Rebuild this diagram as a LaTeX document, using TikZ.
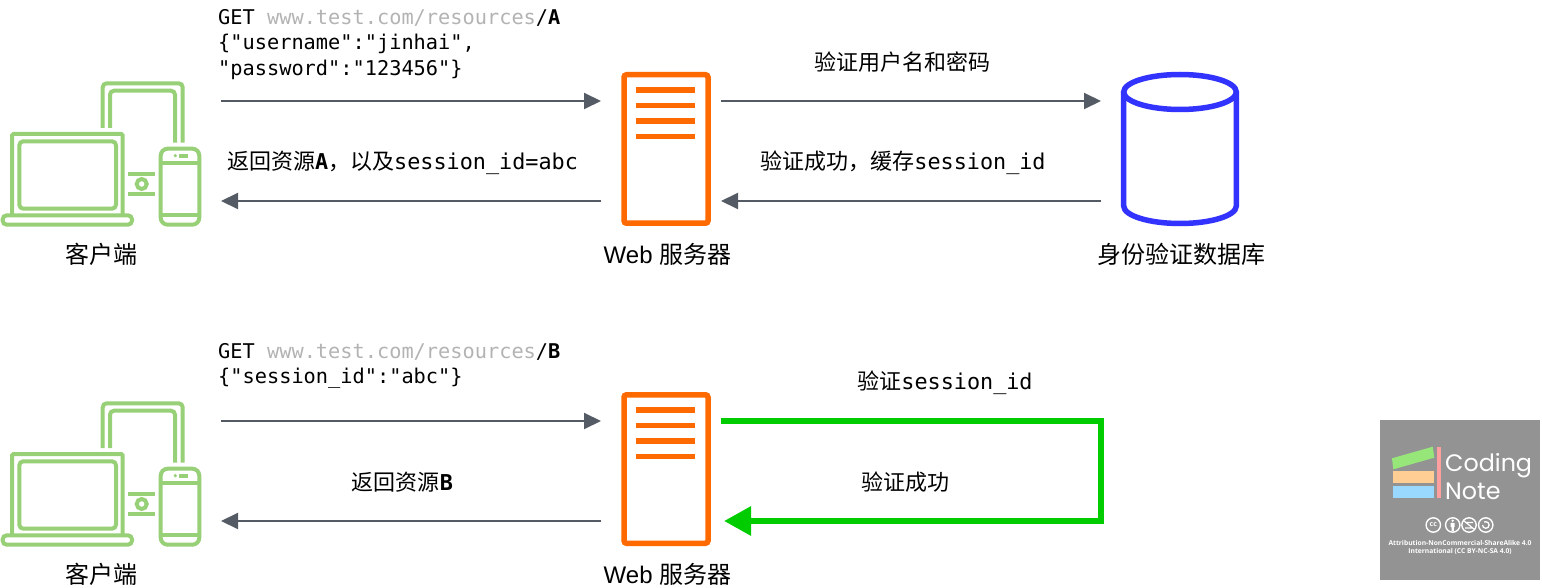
\documentclass[tikz,border=0pt]{standalone}
\usepackage{fontspec}
\setmainfont{Liberation Sans}
\setmonofont{DejaVu Sans Mono}
\newfontfamily\cjk{Noto Sans CJK SC}
\newfontfamily\logofont{Poppins}
\newfontfamily\licencefont{Open Sans}
\definecolor{clientgreen}{HTML}{97D077}
\definecolor{serverorange}{HTML}{FF6A00}
\definecolor{dbblue}{HTML}{3333FF}
\definecolor{arrowgray}{HTML}{545B64}
\definecolor{urlgray}{HTML}{B3B3B3}
\definecolor{checkgreen}{HTML}{00CC00}
\definecolor{logogray}{HTML}{939394}
\definecolor{bookgreen}{HTML}{97E67A}
\definecolor{bookorange}{HTML}{FFCE94}
\definecolor{bookblue}{HTML}{99D9FF}
\definecolor{bookpink}{HTML}{FF9FA0}
\usetikzlibrary{arrows.meta}
\newcommand{\url}[1]{\textcolor{urlgray}{#1}}
\begin{document}
\begin{tikzpicture}[x=1pt, y=-1pt,
  iconbox/.style={inner sep=0, outer sep=0, minimum width=200pt, minimum height=145pt},
  serverbox/.style={draw=serverorange, line width=5.5pt, rounded corners=2.5pt, inner sep=0, outer sep=0, minimum width=84pt, minimum height=148.5pt},
  dbbox/.style={inner sep=0, outer sep=0, minimum width=118pt, minimum height=155pt},
  caption/.style={font=\fontsize{24}{26}\selectfont, inner sep=0},
  request/.style={font=\fontsize{20.3}{25.5}\ttfamily\selectfont, align=left, inner sep=0},
  label/.style={font=\fontsize{21.8}{26}\ttfamily\selectfont, align=left, inner sep=0},
  transfer/.style={draw=arrowgray, line width=2pt, -{Triangle[length=17pt, width=16pt]}, shorten <=20pt, shorten >=20pt},
  check/.style={draw=checkgreen, line width=6pt, -{Triangle[length=27pt, width=28pt]}},
  clienticon/.pic={
    \begin{scope}[shift={(-101,-154)}, draw=clientgreen, line width=4pt]
      \draw (102.7,128) -- (102.7,87) [rounded corners=4pt] -- (102.7,83.3) -- (182.7,83.3) -- (182.7,142.7);
      \draw[rounded corners=4pt] (110,128) -- (110,90.7) -- (175,90.7) -- (175,142.7);
      \draw[rounded corners=1.5pt] (12,214) -- (12,134) -- (122.7,134) -- (122.7,214);
      \draw[rounded corners=4pt] (19.3,141.3) rectangle (116,208.7);
      \draw[rounded corners=4pt] (2.7,215.3) -- (132,215.3) -- (132,224.7) -- (2.7,224.7) -- cycle;
      \draw[rounded corners=7pt] (160.7,148.7) rectangle (199.3,224.7);
      \draw (160.7,163.3) -- (199.3,163.3);
      \draw (160.7,215.3) -- (199.3,215.3);
      \fill[clientgreen] (175.3,155.7) circle (1.8);
      \fill[clientgreen] (179,154) rectangle (188,157.7);
      \draw (128,174) -- (155.3,174);
      \draw (128,194) -- (155.3,194);
      \draw (141.7,184) circle (5);
    \end{scope}
  },
  serverlines/.pic={
    \begin{scope}[shift={(-666,-149)}, draw=serverorange, line width=5.5pt]
      \draw (636,90) -- (695,90);
      \draw (636,105.3) -- (695,105.3);
      \draw (636,121) -- (695,121);
      \draw (636,136.3) -- (695,136.3);
    \end{scope}
  },
  dbicon/.pic={
    \begin{scope}[shift={(-1180,-149)}, draw=dbblue, line width=5.5pt]
      \draw (1180,92) ellipse [x radius=56.3, y radius=17.5];
      \draw (1123.7,92) -- (1123.7,206) arc [start angle=180, end angle=360, x radius=56.3, y radius=-17.5] -- (1236.3,92);
    \end{scope}
  },
]
\useasboundingbox (0,0) rectangle (1542,588);

% first round
\node[iconbox] (client1) at (101,154) {};
\pic at (client1.center) {clienticon};
\node[serverbox] (server1) at (666,149) {};
\pic at (server1.center) {serverlines};
\node[dbbox] (database) at (1180,149) {};
\pic at (database.center) {dbicon};
\node[caption] (client1label) at (101,254) {{\cjk 客户端}};
\node[caption] (server1label) at (667.5,254) {Web {\cjk 服务器}};
\node[caption] (databaselabel) at (1181,254) {{\cjk 身份验证数据库}};

\draw[transfer, shorten >=23pt] ([yshift=53pt]client1.east) -- ([yshift=48pt]server1.west);
\draw[transfer, shorten <=23pt] ([yshift=-52pt]server1.west) -- ([yshift=-47pt]client1.east);
\draw[transfer, shorten <=13pt] ([yshift=48pt]server1.east) -- ([yshift=48pt]database.west);
\draw[transfer, shorten >=13pt] ([yshift=-52pt]database.west) -- ([yshift=-52pt]server1.east);

\node[request, anchor=north west] (requestA) at (218,9) {GET \url{www.test.com/resources}/\textbf{A}\\\{"username":"jinhai",\\"password":"123456"\}};
\node[label] (responseA) at (402.5,162.5) {{\cjk\fontsize{22}{26}\selectfont 返回资源}\textbf{A}{\cjk\fontsize{22}{26}\selectfont ，以及}session\_id=abc};
\node[label] (verifyA) at (902.5,62) {{\cjk\fontsize{22}{26}\selectfont 验证用户名和密码}};
\node[label] (cacheA) at (903,162.5) {{\cjk\fontsize{22}{26}\selectfont 验证成功，缓存}session\_id};

% second round
\node[iconbox] (client2) at (101,474) {};
\pic at (client2.center) {clienticon};
\node[serverbox] (server2) at (666,469) {};
\pic at (server2.center) {serverlines};
\node[caption] (client2label) at (101,574) {{\cjk 客户端}};
\node[caption] (server2label) at (667.5,574) {Web {\cjk 服务器}};

\draw[transfer, shorten >=23pt] ([yshift=53pt]client2.east) -- ([yshift=48pt]server2.west);
\draw[transfer, shorten <=23pt] ([yshift=-52pt]server2.west) -- ([yshift=-47pt]client2.east);
\coordinate (turn) at (1101,471);
\draw[check, shorten <=13pt, shorten >=16pt] ([yshift=48pt]server2.east) -| (turn) |- ([yshift=-52pt]server2.east);

\node[request, anchor=north west] (requestB) at (218,343) {GET \url{www.test.com/resources}/\textbf{B}\\\{"session\_id":"abc"\}};
\node[label] (responseB) at (402.5,482.5) {{\cjk\fontsize{22}{26}\selectfont 返回资源}\textbf{B}};
\node[label] (verifyB) at (945,382.5) {{\cjk\fontsize{22}{26}\selectfont 验证}session\_id};
\node[label] (okB) at (905,482.5) {{\cjk\fontsize{22}{26}\selectfont 验证成功}};

% logo
\fill[logogray] (1380,420) rectangle (1540,580);
\fill[bookgreen] (1392,458.3) -- (1432.7,446.7) -- (1434.3,457.7) -- (1393.3,469.3) -- cycle;
\fill[bookorange] (1393.3,471) rectangle (1434.3,482.7);
\fill[bookblue] (1393.3,486.3) rectangle (1434.3,497.7);
\fill[bookpink] (1436.7,446.7) rectangle (1441,497.7);
\node[anchor=west, inner sep=0, text=white, font=\fontsize{23.8}{26}\logofont\selectfont] (coding) at (1445,466) {Coding};
\node[anchor=west, inner sep=0, text=white, font=\fontsize{23.8}{26}\logofont\selectfont] (note) at (1445,491) {Note};
\draw[white, line width=1.4pt] (1433.3,525) circle (7.2) (1452.7,525) circle (7.2) (1469,525) circle (7.2) (1485.7,525) circle (7.2);
\node[inner sep=0, text=white, font=\fontsize{7}{7}\licencefont\bfseries\selectfont] (ccmark) at (1433.3,524.3) {cc};
\fill[white] (1452.7,520.7) circle (1.3) (1450.7,522.8) rectangle (1454.7,527) (1451.5,527) rectangle (1453.9,531);
\draw[white, line width=1.2pt] (1463.5,520.5) -- (1474.5,529.5) (1465,528) -- (1473,528) (1465,522.5) -- (1473,522.5);
\draw[white, line width=1.3pt] (1482.5,525) arc (180:-120:3.3);
\node[align=center, inner sep=0, text=white, font=\fontsize{6.7}{8.6}\licencefont\bfseries\selectfont] (licence) at (1460,547.5) {Attribution-NonCommercial-ShareAlike 4.0\\International (CC BY-NC-SA 4.0)};
\end{tikzpicture}
\end{document}
